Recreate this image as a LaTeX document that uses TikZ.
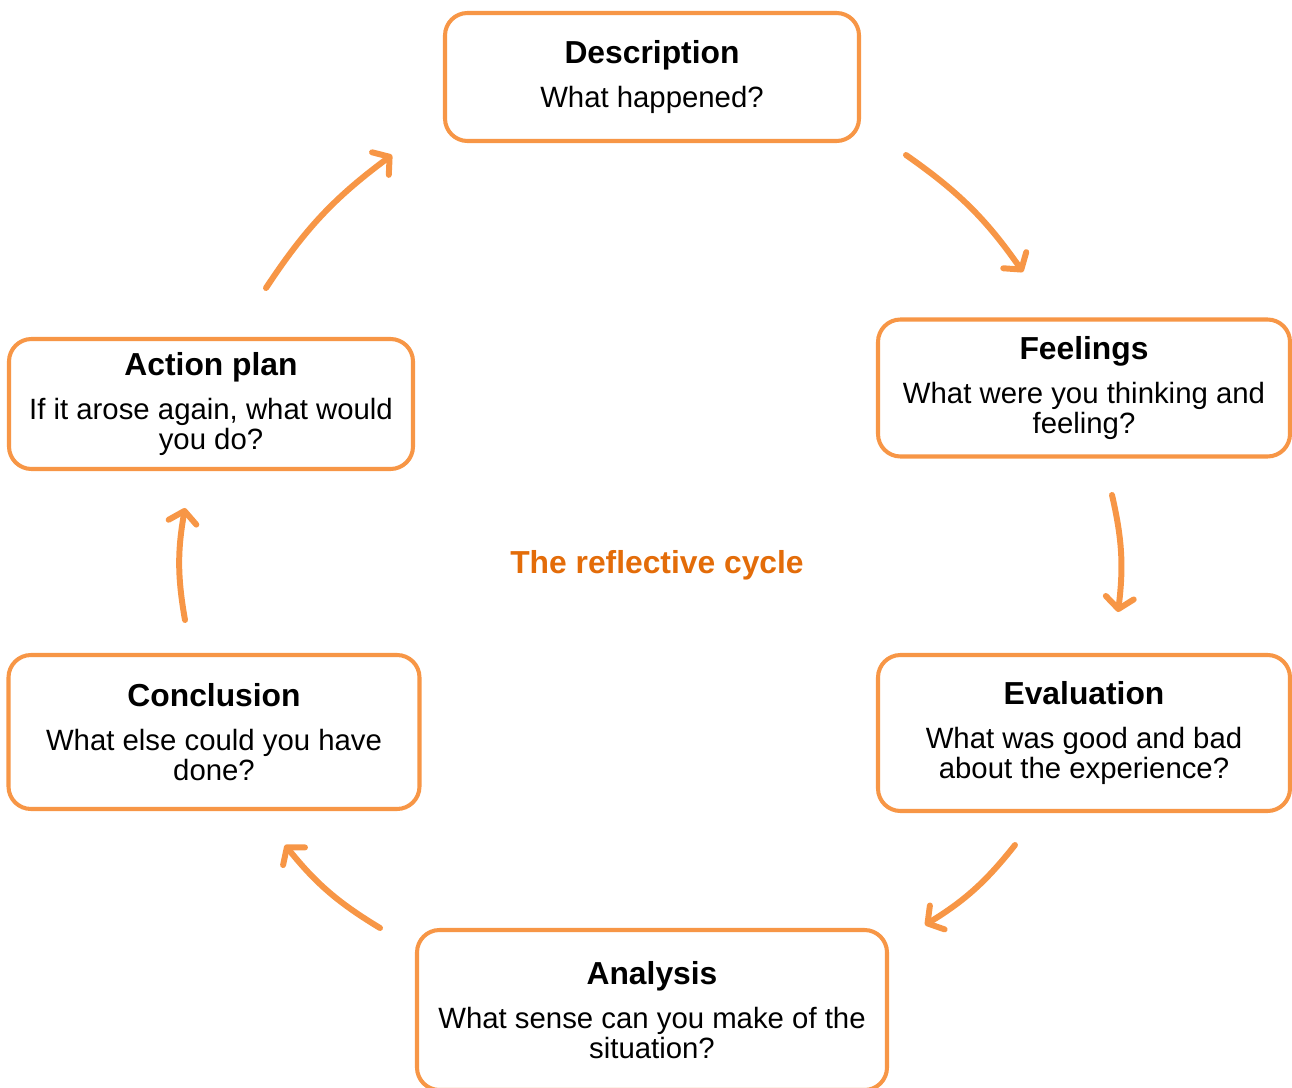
\documentclass[tikz,border=0pt]{standalone}
\usepackage{fontspec}
\setmainfont{Liberation Sans}
\usetikzlibrary{arrows.meta}
\definecolor{boxorange}{HTML}{F79646}
\definecolor{titleorange}{HTML}{E36C09}
\begin{document}
\begin{tikzpicture}[x=0.02cm, y=-0.02cm,
    stagebox/.style={draw=boxorange, line width=2.3pt, rounded corners=0.45cm, fill=white,
        align=center, font=\fontsize{16.7}{17}\selectfont, inner sep=0pt},
    cyclearrow/.style={draw=boxorange, line width=3.4pt, line cap=round,
        -{Straight Barb[length=6.5pt, width=16pt, round]}, bend left=10}]
    \useasboundingbox (0,0) rectangle (1292,1088);

    % Stages of the cycle
    \node[stagebox, minimum width=414*0.02cm, minimum height=128*0.02cm] (description) at (652,77)
        {{\fontsize{18.1}{17}\selectfont\bfseries Description}\\[8pt] What happened?};
    \node[stagebox, minimum width=412*0.02cm, minimum height=137*0.02cm] (feelings) at (1084,388)
        {{\fontsize{18.1}{17}\selectfont\bfseries Feelings}\\[8pt] What were you thinking and\\ feeling?};
    \node[stagebox, minimum width=412*0.02cm, minimum height=156*0.02cm] (evaluation) at (1084,733)
        {{\fontsize{18.1}{17}\selectfont\bfseries Evaluation}\\[8pt] What was good and bad\\ about the experience?};
    \node[stagebox, minimum width=470*0.02cm, minimum height=160*0.02cm] (analysis) at (652,1010)
        {{\fontsize{18.1}{17}\selectfont\bfseries Analysis}\\[8pt] What sense can you make of the\\ situation?};
    \node[stagebox, minimum width=411*0.02cm, minimum height=154*0.02cm] (conclusion) at (214,732)
        {{\fontsize{18.1}{17}\selectfont\bfseries Conclusion}\\[8pt] What else could you have\\ done?};
    \node[stagebox, minimum width=404*0.02cm, minimum height=130*0.02cm] (actionplan) at (211,404)
        {{\fontsize{18.1}{17}\selectfont\bfseries Action plan}\\[8pt] If it arose again, what would\\ you do?};

    % Title in the middle
    \node[text=titleorange, font=\fontsize{18.1}{18}\selectfont\bfseries] (cycle) at (657,565) {The reflective cycle};

    % Arrow ends
    \coordinate (a1) at (906,155);  \coordinate (b1) at (1023,272);
    \coordinate (a2) at (1112,495); \coordinate (b2) at (1118,612);
    \coordinate (a3) at (1015,845); \coordinate (b3) at (925,925);
    \coordinate (a4) at (380,928);  \coordinate (b4) at (285,845);
    \coordinate (a5) at (185,620);  \coordinate (b5) at (185,508);
    \coordinate (a6) at (266,288);  \coordinate (b6) at (392,155);

    % Arrows going round
    \foreach \i in {1,...,6}
        \draw[cyclearrow] (a\i) to (b\i);
\end{tikzpicture}
\end{document}
